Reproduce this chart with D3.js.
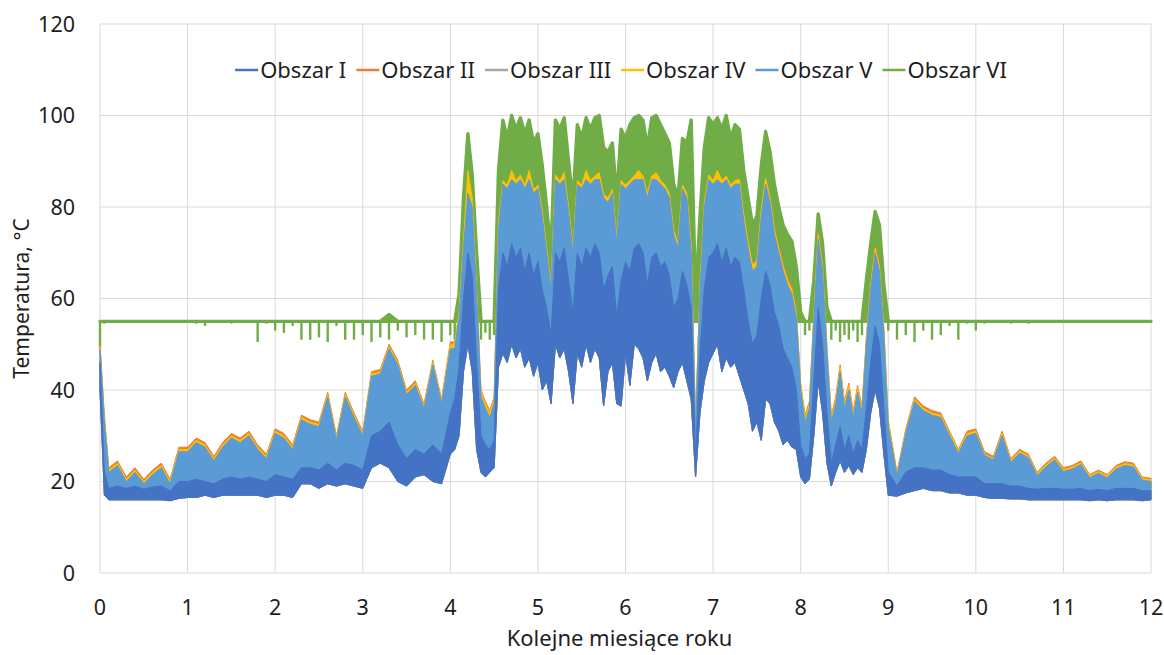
<!DOCTYPE html>
<html>
<head>
<meta charset="utf-8">
<script src="https://cdn.jsdelivr.net/npm/d3@7"></script>
<style>
  body { margin: 0; background: #fff; }
  text { font-family: "Noto Sans", sans-serif; fill: #1e1e1e; }
</style>
</head>
<body>
<svg id="chart" width="1164" height="655"></svg>
<script>
// time axis (months), finer in summer
const months = [0, 0.05].concat(
  d3.range(1, 40).map(i => i / 10),
  d3.range(80, 181).map(i => i / 20),
  d3.range(91, 121).map(i => i / 10)
);

const seriesNames = ["Obszar I", "Obszar II", "Obszar III", "Obszar IV", "Obszar V", "Obszar VI"];
const xTicks = [0, 1, 2, 3, 4, 5, 6, 7, 8, 9, 10, 11, 12];
const yTicks = [0, 20, 40, 60, 80, 100, 120];

// envelopes (min / max per time step)
const obszar1Min = [
  40, 17, 16, 16, 16, 16, 16, 16, 16, 15.8, 16.3, 16.5, 16.5, 17, 16.5, 17, 17, 17, 17, 17, 16.5, 17, 17, 16.5, 19.5, 19.5, 18.5, 19.5, 19, 19.5, 19, 18.5, 23, 24, 23, 20, 19, 21, 21.5, 20, 19.5,
  26, 27, 30, 44, 50, 44, 27, 22, 21, 22, 23, 45,
  48, 46, 50, 47, 49, 45, 47, 43, 46, 40, 42, 37, 50, 47, 49, 44, 37, 48, 45, 50, 46, 49, 47, 36.5, 44, 46, 37, 36.5, 48, 41, 50, 49, 47, 42, 46, 48, 44, 45, 43, 40.5, 44, 46, 42,
  38, 21, 35,
  42, 46, 48, 50, 44, 47, 45, 46, 43,
  40, 37, 31, 33, 29,
  38, 37, 33, 31, 28, 29, 27.5, 27,
  21, 19.5, 20.5, 30, 42, 35, 24, 19, 22, 24.5, 22, 23.5, 21.5, 23, 22,
  27, 35, 40, 36, 26, 17,
  16.8, 17.5, 18, 18.5, 18, 18, 17.5, 17.5, 17, 17, 16.5, 16.3, 16.3, 16.2, 16.2, 16, 16, 16, 16, 16, 16, 16, 15.8, 16, 15.8, 16, 16, 16, 15.8, 16
];
const obszar1Max = [
  46, 22, 18.5, 19, 18.5, 19, 18.3, 18.8, 19, 18, 20, 20, 20.5, 20, 19.5, 20.5, 21, 20.5, 21, 20.5, 20, 21.5, 21, 20.5, 23, 23, 22.5, 24, 22.5, 24, 23.5, 22.5, 30, 31, 33, 28, 25, 27, 26, 28, 26,
  35, 38, 45, 60, 70, 65, 46, 30, 28, 27, 29, 62,
  70, 67, 72, 69, 71, 66, 70, 65, 68, 62, 58, 52, 70, 68, 71, 64, 57, 70, 67, 71, 69, 72, 70, 62, 65, 67, 56, 64, 68, 66, 71, 72, 70, 63, 69, 70, 67, 68, 65, 58, 60, 66, 63,
  58, 25, 48,
  62, 69, 70, 72, 68, 71, 67, 69, 68,
  62, 55, 50, 52, 60,
  66, 63, 57, 54, 49, 47, 45, 40,
  28, 25, 26, 42, 58, 50, 35, 24, 28, 32, 27, 30, 26, 29, 27,
  36, 46, 54, 50, 36, 22,
  19, 22, 23, 23, 22.5, 22.5, 21.5, 21, 21, 21, 19.5, 19.5, 19.5, 19, 19, 18.5, 18.3, 18.5, 18.5, 18.3, 18.3, 18.5, 18, 18.3, 18, 18.5, 18.5, 18.5, 18, 18
];
const obszar2Max = [
  50, 34.5, 23, 24.5, 21, 23, 20.5, 22.5, 24, 20.5, 27.5, 27.5, 29.5, 28.5, 25.5, 28.5, 30.5, 29.5, 31, 28, 26, 31.5, 30.5, 28, 34.5, 33.5, 33, 39.5, 30, 39.5, 35, 31, 44, 44.5, 50, 46.5, 40, 42, 37, 46.5, 38,
  50.5, 50.5, 57, 72, 84, 81, 62.5, 40, 37.5, 35.5, 38.5, 76,
  85.6, 84.5, 86.6, 85.5, 86.6, 84.5, 86.6, 83.5, 84.6, 78.8, 70.8, 62.8, 86.5, 85.6, 86.6, 79.8, 70.8, 85.6, 84.5, 86.6, 85.5, 86.6, 86.5, 82.6, 81.8, 83.6, 72.8, 85.6, 84.5, 85.6, 86.6, 86.5, 86.6, 82.8, 86.6, 86.5, 85.6, 84.5, 82.8, 75, 72, 84.6, 82.8,
  72, 33, 63,
  80.8, 86.6, 85.5, 86.6, 85.6, 86.5, 84.6, 85.5, 85.6,
  78.5, 72.5, 67.5, 68.5, 79,
  85.6, 82, 75.5, 71.5, 67.5, 64.5, 62.5, 57.5,
  41.5, 34.5, 37.5, 56.5, 74.5, 67.5, 49.5, 34.5, 38.5, 45.5, 37.5, 41.5, 35.5, 41, 36.5,
  51.5, 63.5, 71.5, 67.5, 53.5, 33.5,
  22, 31.5, 38.5, 36.5, 35.5, 35, 31, 27, 31, 31.5, 26.5, 25.5, 31, 25, 27, 26, 22, 24, 25.5, 23, 23.5, 24.5, 21.5, 22.5, 21.5, 23.5, 24.3, 24, 21, 20.7
];
const obszar3Max = [
  49.4, 33.4, 22.4, 23.9, 20.4, 22.4, 19.9, 21.9, 23.4, 19.9, 26.9, 26.9, 28.9, 27.9, 24.9, 27.9, 29.9, 28.9, 30.4, 27.4, 25.4, 30.9, 29.9, 27.4, 33.9, 32.9, 32.4, 38.9, 29.4, 38.9, 34.4, 30.4, 43.4, 43.9, 49.4, 45.9, 39.4, 41.4, 36.4, 45.9, 37.4,
  50, 50, 56.5, 71.5, 83.5, 80.5, 61.5, 39, 36.5, 34.5, 37.5, 75.5,
  85.3, 84.3, 86.3, 85.3, 86.3, 84.3, 86.3, 83.3, 84.3, 78.3, 70.3, 62.3, 86.3, 85.3, 86.3, 79.3, 70.3, 85.3, 84.3, 86.3, 85.3, 86.3, 86.3, 82.3, 81.3, 83.3, 72.3, 85.3, 84.3, 85.3, 86.3, 86.3, 86.3, 82.3, 86.3, 86.3, 85.3, 84.3, 82.3, 74.3, 71.3, 84.3, 82.3,
  71, 32, 62,
  80.3, 86.3, 85.3, 86.3, 85.3, 86.3, 84.3, 85.3, 85.3,
  77.8, 71.8, 66.8, 67.8, 78.8,
  85.5, 81.5, 74.5, 70.5, 66.5, 63.5, 61.5, 56.5,
  40.5, 33.5, 36.5, 55.5, 73.5, 66.5, 48.5, 33.5, 37.5, 44.5, 36.5, 40.5, 34.5, 40, 35.5,
  50.5, 62.5, 70.5, 66.5, 52.5, 32.5,
  21.6, 30.9, 37.9, 35.9, 34.9, 34.4, 30.4, 26.6, 30.4, 30.9, 26.1, 25.1, 30.4, 24.6, 26.6, 25.6, 21.7, 23.6, 25.1, 22.6, 23.1, 24.1, 21.2, 22.2, 21.2, 23.1, 23.9, 23.6, 20.7, 20.4
];
const obszar4Max = [
  49.5, 33.5, 22.5, 24, 20.5, 22.5, 20, 22, 23.5, 20, 27, 27, 29, 28, 25, 28, 30, 29, 30.5, 27.5, 25.5, 31, 30, 27.5, 34, 33, 32.5, 39, 29.5, 39, 34.5, 30.5, 43.5, 44, 49.5, 46, 39.5, 41.5, 36.5, 46, 37.5,
  50, 50, 57, 72.5, 88, 82, 62, 39.5, 37, 35, 38, 76.5,
  85.8, 84.8, 88, 85.8, 87, 84.8, 88, 83.8, 84.8, 79, 71, 63, 87, 85.8, 87.5, 80, 71, 85.8, 84.8, 88, 85.8, 86.8, 87.5, 82.8, 82, 83.8, 73, 85.8, 84.8, 85.8, 86.8, 88, 86.8, 83, 86.8, 87.5, 85.8, 84.8, 83, 75, 72, 84.8, 83,
  71.5, 32.5, 62.5,
  81, 87, 85.8, 88, 85.8, 86.8, 84.8, 85.8, 86,
  78.3, 72.3, 67.3, 68.3, 79.3,
  86.3, 82, 75, 71, 67, 64, 62, 57,
  41, 34, 37, 56, 74, 67, 49, 34, 38, 45, 37, 41, 35, 40.5, 36,
  51, 63, 71, 67, 53, 33,
  21.7, 31, 38, 36, 35, 34.5, 30.5, 26.7, 30.5, 31, 26, 25, 30.5, 24.6, 26.6, 25.6, 21.7, 23.6, 25.1, 22.6, 23.1, 24.1, 21.2, 22.2, 21.2, 23.1, 23.9, 23.6, 20.7, 20.4
];
const obszar5Max = [
  49, 33, 22, 23.5, 20, 22, 19.5, 21.5, 23, 19.5, 26.5, 26.5, 28.5, 27.5, 24.5, 27.5, 29.5, 28.5, 30, 27, 25, 30.5, 29.5, 27, 33.5, 32.5, 32, 38.5, 29, 38.5, 34, 30, 43, 43.5, 49, 45.5, 39, 41, 36, 45.5, 37,
  49, 49, 56, 71, 83, 80, 61, 38.5, 36, 34, 37, 75,
  85, 84, 86, 85, 86, 84, 86, 83, 84, 78, 70, 62, 86, 85, 86, 79, 70, 85, 84, 86, 85, 86, 86, 82, 81, 83, 72, 85, 84, 85, 86, 86, 86, 82, 86, 86, 85, 84, 82, 74, 71, 84, 82,
  70, 31, 61,
  80, 86, 85, 86, 85, 86, 84, 85, 85,
  77, 71, 66, 67, 78,
  85, 81, 74, 70, 66, 63, 61, 56,
  40, 33, 36, 55, 73, 66, 48, 33, 37, 44, 36, 40, 34, 39.5, 35,
  50, 62, 70, 66, 52, 32,
  21.3, 30.5, 37.5, 35.5, 34.5, 34, 30, 26.2, 30, 30.5, 25.7, 24.7, 30, 24.2, 26.2, 25.2, 21.3, 23.2, 24.7, 22.2, 22.7, 23.7, 20.8, 21.8, 20.8, 22.7, 23.5, 23.2, 20.3, 20
];
const obszar6Min = [
  49, 54.5, 55, 55, 55, 55, 55, 55, 55, 55, 55, 55, 54.5, 54, 55, 55, 54.5, 55, 55, 50.5, 54.5, 53, 52.5, 54, 51, 51, 51.5, 50.5, 54, 51, 51, 52, 50.5, 51.5, 51, 53, 51.5, 52, 51, 51, 50.5,
  52, 51, 55, 55, 55, 55, 55, 51, 52.5, 51, 52,
  55, 55, 55, 55, 55, 55, 55, 55, 55, 55, 55, 55, 55, 55, 55, 55, 55, 55, 55, 55, 55, 55, 55, 55, 55, 55, 55, 55, 55, 55, 55, 55, 55, 55, 55,
  55, 55, 55, 55, 55, 55, 55, 55, 55, 55, 55, 55, 55, 55, 55, 55, 55, 55, 55, 55, 55, 55, 55, 55, 55, 55, 55, 55, 55, 55, 55, 55, 55, 55,
  55, 52, 53, 55, 55, 55, 55, 51, 53, 50.5, 52, 51, 53, 50.5, 52,
  55, 55, 55, 55, 55, 53,
  51, 52, 50.5, 53, 51, 52, 54, 51, 54.5, 53, 54.5, 54.8, 55, 54.5, 55, 54.5, 55, 55, 55, 55, 55, 55, 55, 55, 54.7, 55, 55, 55, 55, 55
];
const obszar6Max = [
  55, 55, 55, 55, 55, 55, 55, 55, 55, 55, 55, 55, 55, 55, 55, 55, 55, 55, 55, 55, 55, 55, 55, 55, 55, 55, 55, 55, 55, 55, 55, 55, 55, 55, 56.5, 55, 55, 55, 55, 55, 55,
  55, 55, 61, 82, 96, 87, 70, 55, 55, 55, 55, 88,
  99, 95, 100, 97, 99.5, 96, 99, 94, 96, 89, 80, 70, 99, 97, 99.5, 90, 81, 98, 95, 99.5, 97, 99.5, 100, 93, 92, 94, 82, 97, 95, 98, 99.5, 100, 99, 93, 99.5, 100, 98, 96, 94, 85, 82, 95, 94,
  99, 60, 78,
  93, 99.5, 98, 99.5, 97, 100, 95, 98, 97,
  88, 82, 76, 78, 89,
  96.5, 92, 85, 80, 76, 74, 72.5, 67,
  57, 55, 55, 64, 78.5, 72, 58, 55, 55, 55, 55, 55, 55, 55, 55,
  64, 72, 79, 76, 63, 55,
  55, 55, 55, 55, 55, 55, 55, 55, 55, 55, 55, 55, 55, 55, 55, 55, 55, 55, 55, 55, 55, 55, 55, 55, 55, 55, 55, 55, 55, 55
];
// level of the flat green line outside summer
const obszar6Setpoint = 55;

const colors = ["#4472C4", "#ED7D31", "#A5A5A5", "#FFC000", "#5B9BD5", "#70AD47"];

// lower edges of II-V lie under the dark blue band, so they share obszar1Min
const series = [
  { name: seriesNames[0], color: colors[0], min: obszar1Min, max: obszar1Max },
  { name: seriesNames[1], color: colors[1], min: obszar1Min, max: obszar2Max },
  { name: seriesNames[2], color: colors[2], min: obszar1Min, max: obszar3Max },
  { name: seriesNames[3], color: colors[3], min: obszar1Min, max: obszar4Max },
  { name: seriesNames[4], color: colors[4], min: obszar1Min, max: obszar5Max },
  { name: seriesNames[5], color: colors[5], min: obszar6Min, max: obszar6Max }
];
series.forEach(s => {
  if (s.min.length !== months.length || s.max.length !== months.length)
    throw new Error(s.name + " " + s.min.length + "/" + s.max.length + " vs " + months.length);
});

const margin = { top: 24, right: 13, bottom: 82, left: 100 };
const width = 1164 - margin.left - margin.right;
const height = 655 - margin.top - margin.bottom;

const svg = d3.select("#chart");
const g = svg.append("g").attr("transform", `translate(${margin.left},${margin.top})`);

const x = d3.scaleLinear().domain([0, 12]).range([0, width]);
const y = d3.scaleLinear().domain([0, 120]).range([height, 0]);

// grid
g.selectAll(".hgrid").data(yTicks).join("line")
  .attr("x1", 0).attr("x2", width)
  .attr("y1", d => y(d)).attr("y2", d => y(d))
  .attr("stroke", "#d9d9d9").attr("stroke-width", 1);
g.selectAll(".vgrid").data(xTicks).join("line")
  .attr("x1", d => x(d)).attr("x2", d => x(d))
  .attr("y1", 0).attr("y2", height)
  .attr("stroke", "#d9d9d9").attr("stroke-width", 1);

// tick labels
g.selectAll(".ylab").data(yTicks).join("text")
  .attr("x", -25).attr("y", d => y(d)).attr("dy", "0.36em")
  .attr("text-anchor", "end").attr("font-size", 21.5)
  .text(d => d);
g.selectAll(".xlab").data(xTicks).join("text")
  .attr("x", d => x(d)).attr("y", height + 34).attr("dy", "0.36em")
  .attr("text-anchor", "middle").attr("font-size", 21.5)
  .text(d => d);

const band = s => d3.area()
  .x((d, i) => x(months[i]))
  .y0((d, i) => y(s.min[i]))
  .y1((d, i) => y(s.max[i]))(months);

// green: flat line / summer peaks, with short drops drawn as thin spikes
const s6 = series[5];
g.append("path")
  .attr("d", d3.area()
    .x((d, i) => x(months[i]))
    .y0(() => y(obszar6Setpoint))
    .y1((d, i) => y(s6.max[i]))(months))
  .attr("fill", s6.color)
  .attr("stroke", s6.color)
  .attr("stroke-width", 3.4)
  .attr("stroke-linejoin", "round");
const dropIdx = d3.range(months.length).filter(i => s6.min[i] < obszar6Setpoint);
g.selectAll(".drop").data(dropIdx).join("line")
  .attr("x1", i => x(months[i])).attr("x2", i => x(months[i]))
  .attr("y1", y(obszar6Setpoint)).attr("y2", i => y(s6.min[i]))
  .attr("stroke", s6.color).attr("stroke-width", 2.4);

// blue bands; dark blue last (as they appear stacked)
[1, 2, 3, 4, 0].forEach(k => {
  const s = series[k];
  g.append("path")
    .attr("d", band(s))
    .attr("fill", s.color)
    .attr("stroke", s.color)
    .attr("stroke-width", 1)
    .attr("stroke-linejoin", "round");
});

// legend
const legend = svg.append("g");
let cursor = 0;
series.forEach(s => {
  const it = legend.append("g").attr("transform", `translate(${cursor},0)`);
  it.append("line").attr("x1", 0).attr("x2", 23).attr("y1", 0).attr("y2", 0)
    .attr("stroke", s.color).attr("stroke-width", 2.5);
  const t = it.append("text").attr("x", 25).attr("y", 0).attr("dy", "0.36em")
    .attr("font-size", 22).text(s.name);
  cursor += 25 + t.node().getComputedTextLength() + 10;
});
const total = cursor - 10;
legend.attr("transform", `translate(${621 - total / 2},70)`);

// axis titles
svg.append("text")
  .attr("transform", `translate(21,${margin.top + height / 2}) rotate(-90)`)
  .attr("text-anchor", "middle").attr("dy", "0.36em").attr("font-size", 21)
  .text("Temperatura, °C");
svg.append("text")
  .attr("x", margin.left + width / 2 - 6).attr("y", 638).attr("dy", "0.36em")
  .attr("text-anchor", "middle").attr("font-size", 22)
  .text("Kolejne miesiące roku");
</script>
</body>
</html>
